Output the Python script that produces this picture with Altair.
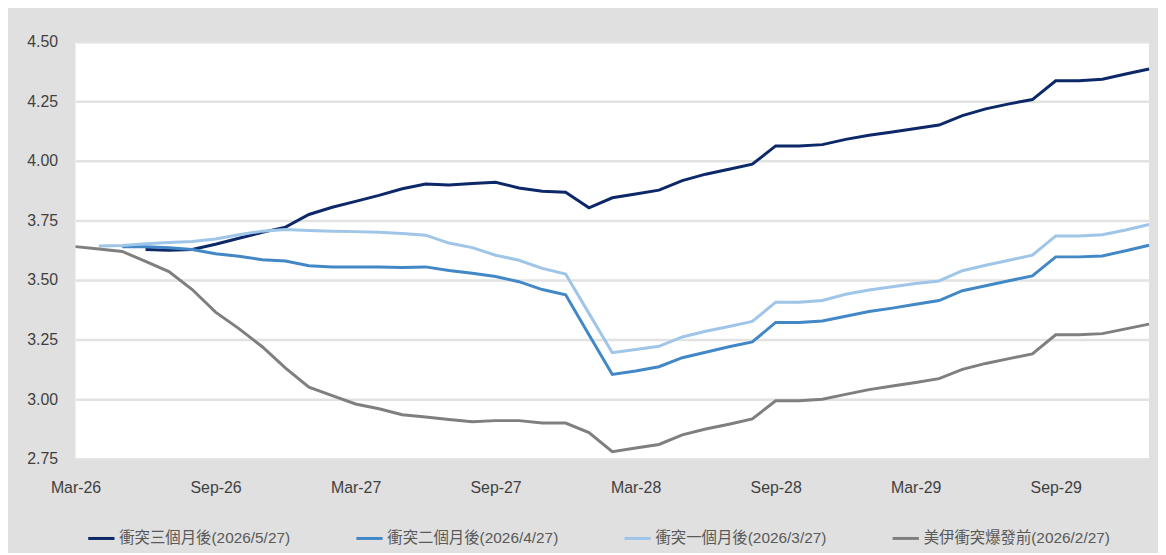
import json
import altair as alt
import pandas as pd

# month index 0 = Mar-26 ... 46 = Jan-30
tick_months = [0, 6, 12, 18, 24, 30, 36, 42]
tick_labels = ["Mar-26", "Sep-26", "Mar-27", "Sep-27", "Mar-28", "Sep-28", "Mar-29", "Sep-29"]
y_ticks = [2.75, 3.00, 3.25, 3.50, 3.75, 4.00, 4.25, 4.50]

series_names = [
    "衝突三個月後(2026/5/27)",
    "衝突二個月後(2026/4/27)",
    "衝突一個月後(2026/3/27)",
    "美伊衝突爆發前(2026/2/27)",
]
colors = ["#0c2868", "#4287c6", "#9fc5e8", "#7f7f7f"]

# start month index of each series
starts = [3, 2, 1, 0]

navy = [3.628, 3.625, 3.628, 3.65, 3.675, 3.70, 3.722, 3.775, 3.805, 3.83, 3.855,
        3.883, 3.903, 3.899, 3.905, 3.91, 3.886, 3.872, 3.868, 3.803, 3.845, 3.861,
        3.877, 3.917, 3.944, 3.965, 3.986, 4.0625, 4.0625, 4.068, 4.09, 4.107, 4.121,
        4.136, 4.15, 4.19, 4.218, 4.239, 4.257, 4.336, 4.336, 4.342, 4.364, 4.385]

mid = [3.64, 3.64, 3.635, 3.628, 3.61, 3.60, 3.585, 3.58, 3.56, 3.555, 3.555, 3.555,
       3.552, 3.555, 3.54, 3.528, 3.515, 3.493, 3.46, 3.438, 3.27, 3.104, 3.118, 3.136,
       3.174, 3.197, 3.22, 3.24, 3.322, 3.322, 3.328, 3.348, 3.368, 3.382, 3.398, 3.414,
       3.455, 3.476, 3.497, 3.517, 3.597, 3.597, 3.601, 3.623, 3.646]

light = [3.643, 3.645, 3.652, 3.657, 3.662, 3.672, 3.69, 3.705, 3.712, 3.708, 3.705,
         3.703, 3.70, 3.695, 3.688, 3.655, 3.636, 3.604, 3.583, 3.549, 3.525, 3.36,
         3.195, 3.208, 3.222, 3.261, 3.285, 3.305, 3.326, 3.407, 3.407, 3.414, 3.44,
         3.458, 3.472, 3.485, 3.496, 3.539, 3.562, 3.583, 3.604, 3.685, 3.685, 3.69,
         3.71, 3.733]

gray = [3.64, 3.63, 3.62, 3.578, 3.535, 3.46, 3.365, 3.296, 3.22, 3.13, 3.05, 3.015,
        2.98, 2.96, 2.935, 2.925, 2.915, 2.905, 2.91, 2.91, 2.90, 2.90, 2.86, 2.78,
        2.795, 2.81, 2.85, 2.875, 2.895, 2.917, 2.993, 2.993, 3.00, 3.02, 3.04, 3.055,
        3.07, 3.086, 3.125, 3.15, 3.17, 3.19, 3.27, 3.27, 3.275, 3.295, 3.315]

rows = []
for name, start, vals in zip(series_names, starts, [navy, mid, light, gray]):
    for k, v in enumerate(vals):
        rows.append({"m": start + k, "v": v, "s": name})
df = pd.DataFrame(rows)

label_font = "Liberation Sans, Noto Sans CJK TC, sans-serif"
label_expr = json.dumps(tick_labels) + "[round(datum.value / 6)]"

chart = alt.Chart(df).mark_line(strokeWidth=3).encode(
    x=alt.X("m:Q",
            scale=alt.Scale(domain=[0, 46], nice=False, zero=False),
            axis=alt.Axis(values=tick_months, labelExpr=label_expr, grid=False,
                          ticks=False, domain=False, title=None, labelFont=label_font,
                          labelFontSize=16, labelColor="#404040", labelPadding=21,
                          labelFlush=False, labelOverlap=False)),
    y=alt.Y("v:Q",
            scale=alt.Scale(domain=[2.75, 4.5], nice=False, zero=False),
            axis=alt.Axis(values=y_ticks, format=".2f", grid=True, gridColor="#e2e2e2",
                          gridWidth=2.5, ticks=False, domain=False, title=None,
                          labelFont=label_font, labelFontSize=16, labelColor="#404040",
                          labelPadding=18)),
    color=alt.Color("s:N",
                    scale=alt.Scale(domain=series_names, range=colors),
                    legend=alt.Legend(orient="none", legendX=11, legendY=485,
                                      direction="horizontal", title=None,
                                      symbolType="stroke", symbolStrokeWidth=3,
                                      symbolSize=700, labelFont=label_font,
                                      labelFontSize=15.5, labelColor="#595959",
                                      labelOffset=3, columnPadding=59, labelLimit=400,
                                      padding=0)),
    order=alt.Order("m:Q"),
).properties(
    width=1081, height=420, autosize="none",
    padding={"left": 68, "top": 32, "right": 9, "bottom": 93},
    background="#e0e0e0",
).configure_view(fill="white", strokeWidth=0)

chart.save("out.html", embed_options={"renderer": "svg", "actions": False})
